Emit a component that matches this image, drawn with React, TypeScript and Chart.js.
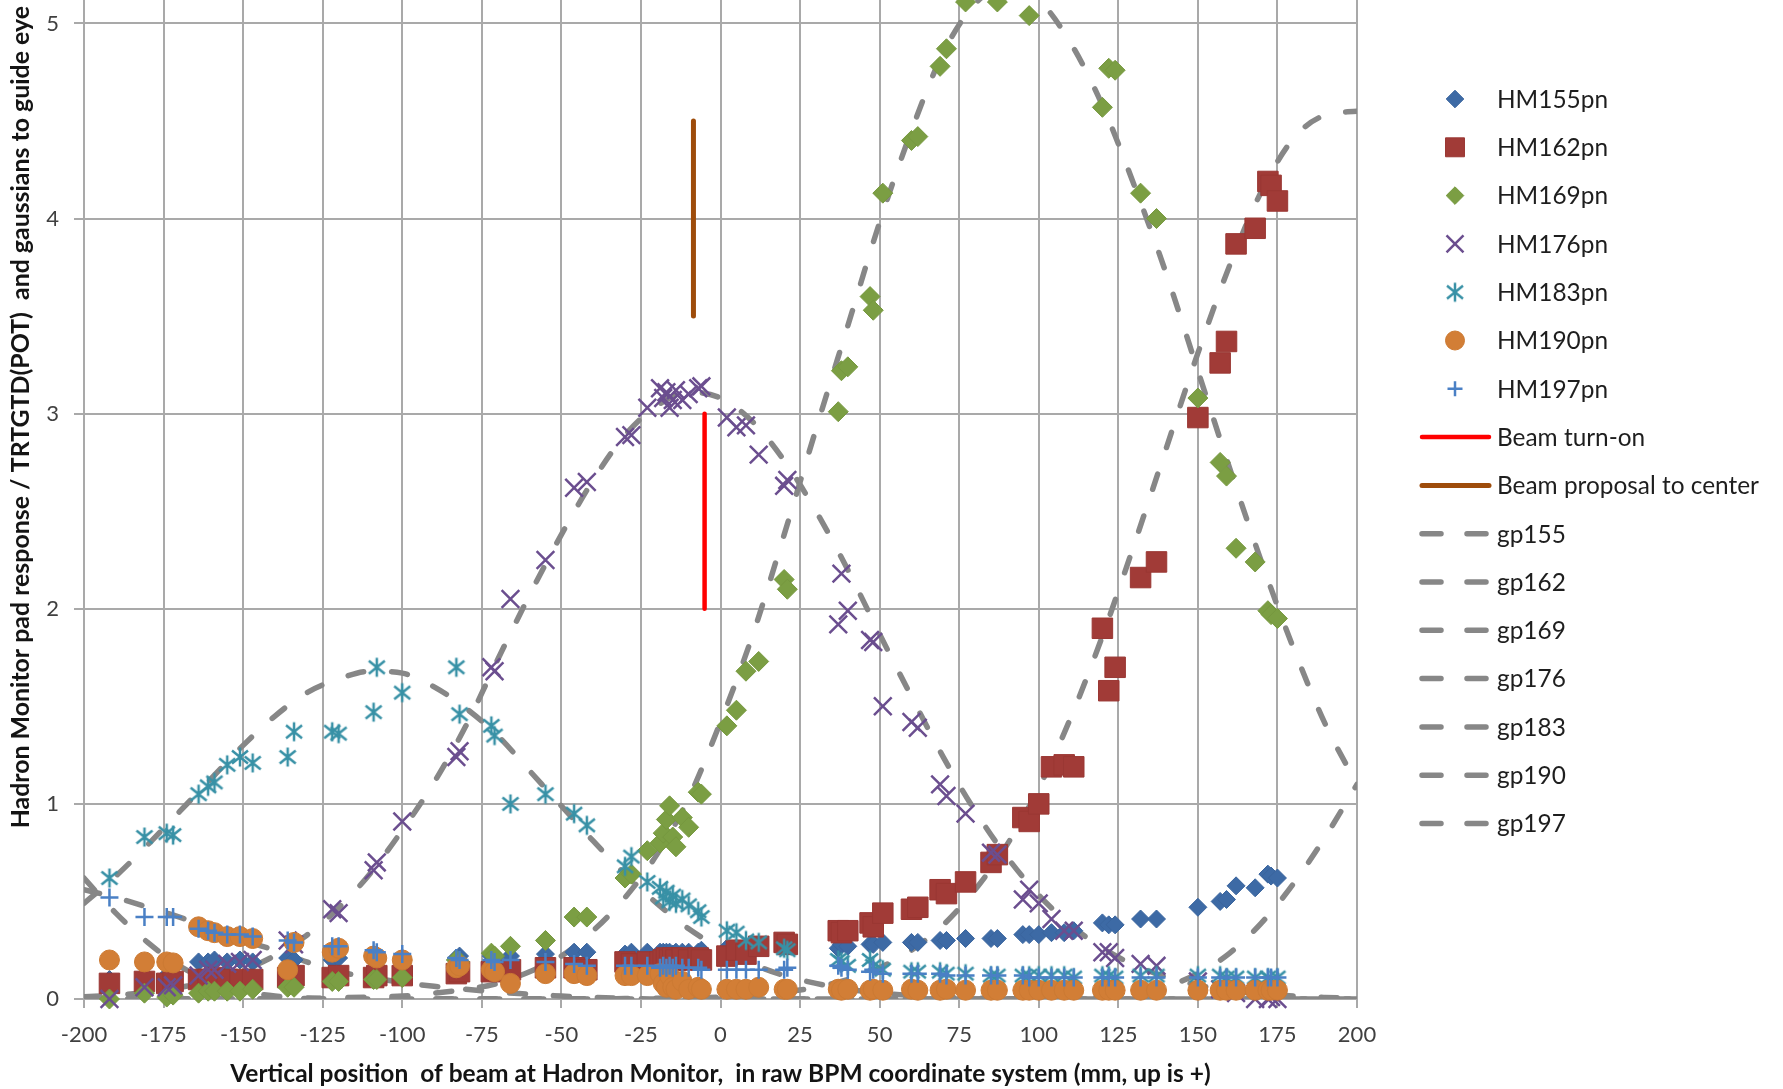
import React, { useEffect, useRef } from 'react';
import { Chart, registerables } from 'chart.js';
import { drawPoint } from 'chart.js/helpers';

Chart.register(...registerables);

// ---------------- DATA ----------------
// Beam positions (mm) at which every Hadron Monitor pad was read out
const positions = [
  -192, -181, -174, -172, -164, -161, -159, -155, -151, -147,
  -136, -134, -122, -120, -109, -108, -100, -83, -82, -72,
  -71, -66, -55, -46, -42, -30, -28, -23, -19, -18,
  -17, -16, -15, -14, -12, -10, -7, -6, 2, 5,
  8, 12, 20, 21, 37, 38, 40, 47, 48, 51,
  60, 62, 69, 71, 77, 85, 87, 95, 97, 100,
  104, 108, 111, 120, 122, 124, 132, 137, 150, 157,
  159, 162, 168, 172, 173, 175,
];

const hm155 = [
  0.10, 0.11, 0.12, 0.12, 0.19, 0.19, 0.20, 0.19, 0.20, 0.19,
  0.21, 0.20, 0.20, 0.21, 0.21, 0.22, 0.21, 0.21, 0.22, 0.22,
  0.21, 0.22, 0.23, 0.24, 0.24, 0.23, 0.24, 0.24, 0.24, 0.24,
  0.24, 0.24, 0.23, 0.24, 0.24, 0.24, 0.24, 0.25, 0.26, 0.26,
  0.26, 0.27, 0.27, 0.27, 0.26, 0.28, 0.27, 0.28, 0.28, 0.29,
  0.29, 0.29, 0.30, 0.30, 0.31, 0.31, 0.31, 0.33, 0.33, 0.33,
  0.34, 0.34, 0.35, 0.39, 0.38, 0.38, 0.41, 0.41, 0.47, 0.50,
  0.51, 0.58, 0.57, 0.64, 0.63, 0.62,
];

const hm162 = [
  0.08, 0.09, 0.08, 0.09, 0.10, 0.10, 0.11, 0.10, 0.10, 0.10,
  0.11, 0.12, 0.11, 0.12, 0.11, 0.12, 0.12, 0.13, 0.14, 0.14,
  0.15, 0.15, 0.16, 0.16, 0.15, 0.19, 0.18, 0.19, 0.19, 0.20,
  0.21, 0.20, 0.21, 0.20, 0.21, 0.20, 0.21, 0.20, 0.22, 0.25,
  0.23, 0.27, 0.29, 0.28, 0.35, 0.34, 0.35, 0.39, 0.37, 0.44,
  0.46, 0.47, 0.56, 0.54, 0.60, 0.70, 0.74, 0.93, 0.91, 1.00,
  1.19, 1.20, 1.19, 1.90, 1.58, 1.70, 2.16, 2.24, 2.98, 3.26,
  3.37, 3.87, 3.95, 4.19, 4.17, 4.09,
];

const hm169 = [
  0.00, 0.03, 0.01, 0.02, 0.03, 0.04, 0.04, 0.04, 0.04, 0.05,
  0.06, 0.06, 0.09, 0.09, 0.10, 0.10, 0.11, 0.20, 0.19, 0.235,
  0.22, 0.27, 0.30, 0.42, 0.42, 0.62, 0.64, 0.76, 0.80, 0.85,
  0.92, 0.99, 0.83, 0.78, 0.93, 0.88, 1.06, 1.05, 1.40, 1.48,
  1.68, 1.73, 2.15, 2.10, 3.01, 3.22, 3.24, 3.60, 3.53, 4.13,
  4.40, 4.42, 4.78, 4.87, 5.11, 5.24, 5.11, 5.24, 5.04, 5.26,
  5.25, 5.22, 5.20, 4.57, 4.77, 4.76, 4.13, 4.00, 3.08, 2.75,
  2.68, 2.31, 2.24, 1.99, 1.97, 1.95,
];

const hm176 = [
  0.00, 0.06, 0.06, 0.07, 0.12, 0.15, 0.15, 0.18, 0.19, 0.20,
  0.30, 0.28, 0.46, 0.44, 0.66, 0.70, 0.91, 1.24, 1.27, 1.70,
  1.68, 2.05, 2.25, 2.62, 2.65, 2.88, 2.89, 3.03, 3.13, 3.08,
  3.11, 3.03, 3.07, 3.12, 3.07, 3.10, 3.13, 3.14, 2.98, 2.93,
  2.94, 2.79, 2.63, 2.66, 1.92, 2.18, 1.99, 1.84, 1.83, 1.50,
  1.42, 1.39, 1.10, 1.04, 0.95, 0.75, 0.74, 0.51, 0.56, 0.49,
  0.41, 0.35, 0.35, 0.24, 0.24, 0.21, 0.18, 0.17, 0.09, 0.05,
  0.05, 0.03, 0.00, 0.00, 0.01, 0.00,
];

const hm183 = [
  0.62, 0.83, 0.85, 0.84, 1.05, 1.09, 1.11, 1.20, 1.24, 1.21,
  1.24, 1.37, 1.37, 1.36, 1.47, 1.70, 1.57, 1.70, 1.46, 1.40,
  1.35, 1.00, 1.05, 0.95, 0.89, 0.68, 0.73, 0.60, 0.57, 0.52,
  0.55, 0.50, 0.53, 0.49, 0.51, 0.48, 0.45, 0.42, 0.35, 0.34,
  0.30, 0.29, 0.26, 0.25, 0.20, 0.19, 0.17, 0.20, 0.17, 0.15,
  0.14, 0.14, 0.14, 0.13, 0.13, 0.12, 0.12, 0.12, 0.12, 0.12,
  0.12, 0.12, 0.11, 0.12, 0.12, 0.11, 0.12, 0.12, 0.12, 0.12,
  0.11, 0.11, 0.11, 0.11, 0.10, 0.11,
];

const hm190 = [
  0.20, 0.19, 0.19, 0.185, 0.37, 0.35, 0.34, 0.32, 0.32, 0.31,
  0.15, 0.29, 0.24, 0.26, 0.22, 0.21, 0.20, 0.16, 0.17, 0.15,
  0.14, 0.08, 0.13, 0.13, 0.12, 0.12, 0.12, 0.12, 0.13, 0.08,
  0.06, 0.12, 0.06, 0.05, 0.09, 0.05, 0.06, 0.05, 0.05, 0.05,
  0.05, 0.06, 0.05, 0.05, 0.05, 0.045, 0.05, 0.045, 0.05, 0.045,
  0.05, 0.045, 0.045, 0.05, 0.045, 0.045, 0.045, 0.045, 0.045, 0.045,
  0.045, 0.045, 0.045, 0.045, 0.045, 0.045, 0.045, 0.045, 0.045, 0.045,
  0.045, 0.045, 0.045, 0.045, 0.045, 0.045,
];

const hm197 = [
  0.52, 0.42, 0.42, 0.42, 0.36, 0.35, 0.34, 0.33, 0.33, 0.32,
  0.30, 0.29, 0.27, 0.27, 0.25, 0.24, 0.23, 0.21, 0.20, 0.20,
  0.19, 0.20, 0.19, 0.18, 0.17, 0.17, 0.17, 0.17, 0.16, 0.17,
  0.16, 0.17, 0.16, 0.17, 0.16, 0.16, 0.16, 0.15, 0.15, 0.15,
  0.15, 0.15, 0.15, 0.16, 0.17, 0.16, 0.15, 0.14, 0.15, 0.13,
  0.13, 0.13, 0.13, 0.12, 0.12, 0.12, 0.12, 0.12, 0.11, 0.11,
  0.11, 0.11, 0.11, 0.11, 0.11, 0.11, 0.11, 0.11, 0.11, 0.11,
  0.11, 0.11, 0.11, 0.11, 0.11, 0.11,
];

// Guide-to-the-eye gaussian curves, read every 10 mm
const gaussX = [
  -200, -190, -180, -170, -160, -150, -140, -130, -120, -110,
  -100, -90, -80, -70, -60, -50, -40, -30, -20, -10,
  0, 10, 20, 30, 40, 50, 60, 70, 80, 90,
  100, 110, 120, 130, 140, 150, 160, 170, 180, 190, 200,
];
const gp155 = [
  0, 0, 0, 0, 0, 0, 0, 0, 0, 0,
  0, 0, 0, 0, 0, 0, 0, 0, 0, 0,
  0, 0, 0, 0, 0, 0, 0, 0, 0, 0.001,
  0.002, 0.005, 0.012, 0.03, 0.064, 0.13, 0.235, 0.39, 0.59, 0.83, 1.10,
];
const gp162 = [
  0, 0, 0, 0, 0, 0, 0, 0, 0, 0,
  0, 0, 0, 0, 0, 0, 0.001, 0.002, 0.004, 0.006,
  0.01, 0.02, 0.035, 0.06, 0.10, 0.16, 0.25, 0.38, 0.56, 0.79,
  1.08, 1.44, 1.86, 2.33, 2.82, 3.31, 3.76, 4.14, 4.41, 4.53, 4.55,
];
const gp169 = [
  0, 0, 0, 0, 0, 0, 0.001, 0.003, 0.006, 0.01,
  0.015, 0.03, 0.05, 0.08, 0.14, 0.22, 0.35, 0.52, 0.74, 1.03,
  1.42, 1.86, 2.38, 2.92, 3.45, 3.98, 4.45, 4.85, 5.10, 5.20,
  5.12, 4.90, 4.58, 4.17, 3.72, 3.22, 2.72, 2.24, 1.80, 1.41, 1.10,
];
const gp176 = [
  0.012, 0.02, 0.035, 0.059, 0.095, 0.147, 0.223, 0.327, 0.467, 0.645,
  0.865, 1.11, 1.40, 1.74, 2.07, 2.38, 2.66, 2.89, 3.04, 3.11,
  3.08, 2.96, 2.76, 2.50, 2.20, 1.87, 1.55, 1.24, 0.964, 0.728,
  0.533, 0.379, 0.261, 0.174, 0.113, 0.071, 0.044, 0.026, 0.015, 0.008, 0.004,
];
const gp183 = [
  0.49, 0.63, 0.79, 0.96, 1.13, 1.30, 1.45, 1.57, 1.64, 1.68,
  1.67, 1.60, 1.49, 1.35, 1.17, 0.99, 0.81, 0.64, 0.49, 0.36,
  0.26, 0.18, 0.12, 0.08, 0.05, 0.03, 0.018, 0.01, 0.005, 0,
  0, 0, 0, 0, 0, 0, 0, 0, 0, 0, 0,
];
const gp190 = [
  0.62, 0.44, 0.29, 0.17, 0.09, 0.04, 0.015, 0.005, 0, 0,
  0, 0, 0, 0, 0, 0, 0, 0, 0, 0,
  0, 0, 0, 0, 0, 0, 0, 0, 0, 0,
  0, 0, 0, 0, 0, 0, 0, 0, 0, 0, 0,
];
const gp197 = [
  0.56, 0.52, 0.47, 0.42, 0.36, 0.30, 0.25, 0.19, 0.14, 0.11,
  0.085, 0.065, 0.05, 0.035, 0.025, 0.015, 0.008, 0.004, 0, 0,
  0, 0, 0, 0, 0, 0, 0, 0, 0, 0,
  0, 0, 0, 0, 0, 0, 0, 0, 0, 0, 0,
];

// Vertical marker lines
const beamTurnOnX = [-5, -5];
const beamTurnOnY = [2, 3];
const beamProposalX = [-8.5, -8.5];
const beamProposalY = [3.5, 4.5];

const xTitle = 'Vertical position  of beam at Hadron Monitor,  in raw BPM coordinate system (mm, up is +)';
const yTitle = 'Hadron Monitor pad response / TRTGTD(POT)  and gaussians to guide eye ';

// ---------------- STYLE ----------------
const FONT = 'Lato';
const GRID = '#a9a9a9';
const GAUSS_GREY = '#878787';

const pts = (xs: number[], ys: number[]) => xs.map((x, i) => ({ x, y: ys[i] }));

function makeAsterisk(color: string) {
  const c = document.createElement('canvas');
  c.width = 24;
  c.height = 24;
  const g = c.getContext('2d')!;
  g.strokeStyle = color;
  g.lineWidth = 2.5;
  g.beginPath();
  g.moveTo(12, 2.5);
  g.lineTo(12, 21.5);
  g.moveTo(4, 5.5);
  g.lineTo(20, 18.5);
  g.moveTo(4, 18.5);
  g.lineTo(20, 5.5);
  g.stroke();
  return c;
}

const legendRadius = [8.8, 13.4, 8.8, 12, 0, 9.5, 7.5];

const sideLegend = {
  id: 'sideLegend',
  afterDraw(chart: any) {
    const ctx: CanvasRenderingContext2D = chart.ctx;
    const markerX = 1455;
    const lineX0 = 1422;
    const lineX1 = 1489;
    const textX = 1497;
    const y0 = 99;
    const pitch = 48.3;
    ctx.save();
    chart.data.datasets.forEach((ds: any, i: number) => {
      const y = y0 + i * pitch;
      if (ds.showLine) {
        ctx.save();
        ctx.strokeStyle = ds.borderColor;
        ctx.lineWidth = ds.borderWidth;
        ctx.lineCap = 'round';
        ctx.setLineDash(ds.borderDash ? [19, 26] : []);
        ctx.beginPath();
        ctx.moveTo(lineX0, y);
        ctx.lineTo(lineX1, y);
        ctx.stroke();
        ctx.restore();
      } else {
        ctx.save();
        ctx.setLineDash([]);
        ctx.fillStyle = ds.backgroundColor;
        ctx.strokeStyle = ds.borderColor;
        ctx.lineWidth = ds.borderWidth;
        drawPoint(ctx, { pointStyle: ds.pointStyle, rotation: 0, radius: legendRadius[i], borderWidth: ds.borderWidth } as any, markerX, y);
        ctx.restore();
      }
      ctx.fillStyle = '#1e1e1e';
      ctx.font = `24.4px ${FONT}`;
      ctx.textBaseline = 'middle';
      ctx.textAlign = 'left';
      ctx.fillText(ds.label, textX, y + 1);
    });
    ctx.restore();
  },
};

export default function App() {
  const ref = useRef<HTMLCanvasElement>(null);

  useEffect(() => {
    const canvas = ref.current;
    if (!canvas) return;
    const asterisk = makeAsterisk('#3891a6');

    const marker = (label: string, ys: number[], style: any, radius: number, fill: string, stroke: string, bw: number, order: number) => ({
      type: 'scatter' as const,
      label,
      data: pts(positions, ys),
      pointStyle: style,
      pointRadius: radius,
      pointHoverRadius: radius,
      backgroundColor: fill,
      borderColor: stroke,
      borderWidth: bw,
      pointBorderWidth: bw,
      showLine: false,
      clip: false as any,
      order,
    });

    const gauss = (label: string, ys: number[]) => ({
      type: 'scatter' as const,
      label,
      data: pts(gaussX, ys),
      showLine: true,
      pointRadius: 0,
      pointHoverRadius: 0,
      borderColor: GAUSS_GREY,
      backgroundColor: GAUSS_GREY,
      borderWidth: 5.5,
      borderDash: [16, 28],
      borderCapStyle: 'round' as const,
      cubicInterpolationMode: 'monotone' as const,
      fill: false,
      order: 20,
    });

    const vline = (label: string, xs: number[], ys: number[], color: string, width: number) => ({
      type: 'scatter' as const,
      label,
      data: pts(xs, ys),
      showLine: true,
      pointRadius: 0,
      pointHoverRadius: 0,
      borderColor: color,
      backgroundColor: color,
      borderWidth: width,
      borderCapStyle: 'round' as const,
      fill: false,
      order: 15,
    });

    const chart = new Chart(canvas, {
      type: 'scatter',
      data: {
        datasets: [
          marker('HM155pn', hm155, 'rectRot', 9, '#3d6aa5', '#3a659e', 1, 7),
          marker('HM162pn', hm162, 'rect', 14.5, '#a13b37', '#9a3733', 1, 6),
          marker('HM169pn', hm169, 'rectRot', 10, '#7b9e43', '#76983f', 1, 5),
          marker('HM176pn', hm176, 'crossRot', 12.5, '#6b4e8f', '#6b4e8f', 2.5, 4),
          marker('HM183pn', hm183, asterisk, 10, '#3891a6', '#3891a6', 2.5, 3),
          marker('HM190pn', hm190, 'circle', 10, '#d27e36', '#cc7a33', 1, 2),
          marker('HM197pn', hm197, 'cross', 9, '#4a80c5', '#4a80c5', 2.5, 1),
          vline('Beam turn-on', beamTurnOnX, beamTurnOnY, '#ff0000', 4.5),
          vline('Beam proposal to center', beamProposalX, beamProposalY, '#9e4c0b', 5),
          gauss('gp155', gp155),
          gauss('gp162', gp162),
          gauss('gp169', gp169),
          gauss('gp176', gp176),
          gauss('gp183', gp183),
          gauss('gp190', gp190),
          gauss('gp197', gp197),
        ] as any,
      },
      options: {
        responsive: true,
        maintainAspectRatio: false,
        animation: false,
        devicePixelRatio: 1,
        layout: { autoPadding: false, padding: { left: 0, right: 426, top: 0, bottom: 0 } },
        plugins: {
          legend: { display: false },
          tooltip: { enabled: false },
          title: { display: false },
        },
        scales: {
          x: {
            type: 'linear',
            min: -200,
            max: 200,
            ticks: {
              stepSize: 25,
              autoSkip: false,
              maxRotation: 0,
              padding: 14,
              color: '#404040',
              font: { family: FONT, size: 22 },
            },
            grid: { color: GRID, lineWidth: 2, tickLength: 9 },
            border: { color: GRID, width: 2 },
            title: {
              display: true,
              text: xTitle,
              color: '#141414',
              font: { family: FONT, size: 24.5, weight: 'bold' },
              padding: { top: 0, bottom: 0 },
            },
            afterFit: (s: any) => {
              s.height = 90;
              s.paddingLeft = 0;
              s.paddingRight = 0;
            },
          },
          y: {
            type: 'linear',
            min: 0,
            max: 5.12,
            ticks: {
              stepSize: 1,
              includeBounds: false,
              padding: 15,
              color: '#404040',
              font: { family: FONT, size: 22 },
            },
            grid: { color: GRID, lineWidth: 2, tickLength: 10 },
            border: { color: GRID, width: 2 },
            title: {
              display: true,
              text: yTitle,
              align: 'end',
              color: '#141414',
              font: { family: FONT, size: 24.9, weight: 'bold' },
              padding: { top: 6, bottom: 0 },
            },
            afterFit: (s: any) => {
              s.width = 84;
              s.paddingTop = 0;
              s.paddingBottom = 0;
            },
          },
        },
      } as any,
      plugins: [sideLegend],
    });

    return () => chart.destroy();
  }, []);

  return (
    <div style={{ position: 'absolute', left: 0, top: 0, width: 1783, height: 1089, background: '#ffffff' }}>
      <canvas ref={ref} />
    </div>
  );
}
